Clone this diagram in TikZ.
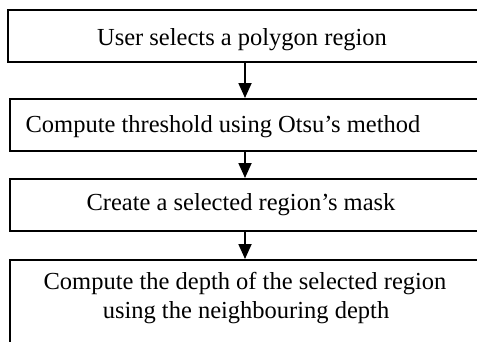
\documentclass[tikz,border=0pt]{standalone}
\usepackage{fontspec}
\setmainfont{Liberation Serif}
\usetikzlibrary{arrows.meta}
\begin{document}
\begin{tikzpicture}[x=1bp,y=-1bp,
  box/.style={draw=black,line width=1.6bp,inner sep=0pt},
  lbl/.style={anchor=base,inner sep=0pt,font=\fontsize{24.5bp}{30bp}\selectfont},
  arr/.style={draw=black,line width=1.8bp,-{Triangle[width=13bp,length=15bp]}}]
\useasboundingbox (0,0) rectangle (477,341);
\clip (0,0) rectangle (477,341);
\node[box,minimum width=500bp,minimum height=52bp,anchor=north west] (b1) at (7,9) {};
\node[box,minimum width=500bp,minimum height=52bp,anchor=north west] (b2) at (9,98) {};
\node[box,minimum width=500bp,minimum height=52bp,anchor=north west] (b3) at (9,178) {};
\node[box,minimum width=500bp,minimum height=120bp,anchor=north west] (b4) at (9,259) {};
\node[lbl] (t1) at (242,45) {User selects a polygon region};
\node[lbl] (t2) at (223,132) {Compute threshold using Otsu’s method};
\node[lbl] (t3) at (241,210) {Create a selected region’s mask};
\node[lbl] (t4a) at (245,289) {Compute the depth of the selected region};
\node[lbl] (t4b) at (246,318) {using the neighbouring depth};
\coordinate (ax) at (245,0);
\draw[arr] (b1.south -| ax) -- (b2.north -| ax);
\draw[arr] (b2.south -| ax) -- (b3.north -| ax);
\draw[arr] (b3.south -| ax) -- (b4.north -| ax);
\end{tikzpicture}
\end{document}
